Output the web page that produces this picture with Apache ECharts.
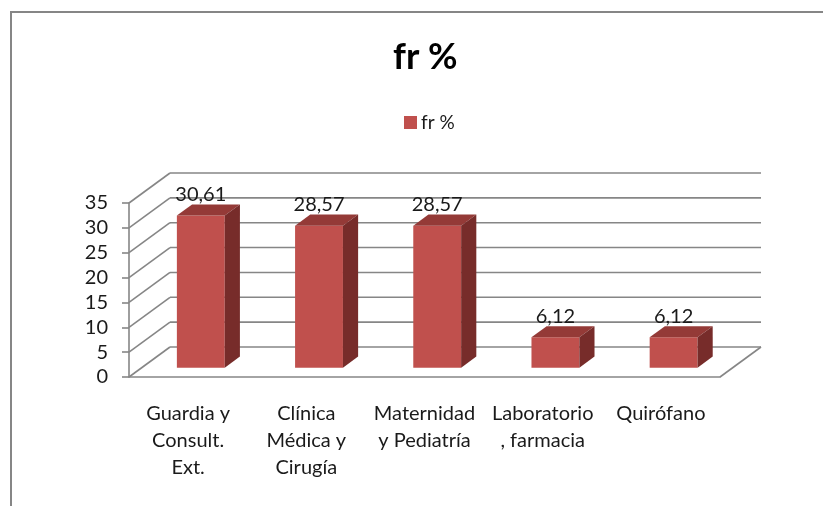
<!DOCTYPE html>
<html>
<head>
<meta charset="utf-8">
<script src="https://cdn.jsdelivr.net/npm/echarts@6/dist/echarts.min.js"></script>
<style>
  html, body { margin: 0; padding: 0; background: #fff; }
  #chart { width: 823px; height: 506px; }
</style>
</head>
<body>
<div id="chart"></div>
<script>
// data
var categories = ['Guardia y\nConsult.\nExt.', 'Clínica\nMédica y\nCirugía', 'Maternidad\ny Pediatría', 'Laboratorio\n, farmacia', 'Quirófano']
var frValues = [30.61, 28.57, 28.57, 6.12, 6.12]
var frLabels = ['30,61', '28,57', '28,57', '6,12', '6,12']
var yTicks = [0, 5, 10, 15, 20, 25, 30, 35]

// fake 3d depth (back wall offset)
var DX = 41
var DY = -30
var GRAY = '#868686'
var FONT = 'Lato'

var chart = echarts.init(document.getElementById('chart'))

function renderWalls (params, api) {
  var cs = params.coordSys
  var v = api.value(0)
  var y = api.coord([0, v])[1]
  var x0 = cs.x
  var x1 = cs.x + cs.width
  var style = { stroke: GRAY, lineWidth: 1.6 }
  var children = [
    { type: 'line', shape: { x1: x0, y1: y, x2: x0 + DX, y2: y + DY }, style: style },
    { type: 'line', shape: { x1: x0 + DX, y1: y + DY, x2: x1 + DX, y2: y + DY }, style: style }
  ]
  if (v === 0) {
    children.push({ type: 'line', shape: { x1: x1, y1: y, x2: x1 + DX, y2: y + DY }, style: style })
  }
  return { type: 'group', children: children }
}

function renderBar (params, api) {
  var idx = api.value(0)
  var val = api.value(1)
  var base = api.coord([idx, 0])
  var top = api.coord([idx, val])
  var band = api.size([1, 0])[0]
  var w = band * 0.405
  var f0 = 0.31
  var fd = 0.37
  var ox = DX * f0
  var oy = DY * f0
  var dx = DX * fd
  var dy = DY * fd
  var xl = base[0] - w / 2 + ox
  var xr = xl + w
  var yb = base[1] + oy
  var yt = top[1] + oy
  return {
    type: 'group',
    children: [
      { type: 'polygon', shape: { points: [[xl, yb], [xr, yb], [xr, yt], [xl, yt]] }, style: { fill: '#C0504D' } },
      { type: 'polygon', shape: { points: [[xl, yt], [xr, yt], [xr + dx, yt + dy], [xl + dx, yt + dy]] }, style: { fill: '#943A37' } },
      { type: 'polygon', shape: { points: [[xr, yb], [xr + dx, yb + dy], [xr + dx, yt + dy], [xr, yt]] }, style: { fill: '#772C2A' } },
      {
        type: 'text',
        style: {
          text: frLabels[params.dataIndex],
          x: (xl + xr) / 2,
          y: yt - 21,
          align: 'center',
          verticalAlign: 'middle',
          fill: '#1a1a1a',
          font: '20px ' + FONT
        }
      }
    ]
  }
}

var option = {
  animation: false,
  backgroundColor: '#fff',
  title: {
    text: 'fr %',
    left: 388,
    top: 34,
    textStyle: { fontFamily: FONT, fontSize: 36, fontWeight: 'bold', color: '#000' }
  },
  legend: {
    data: [{ name: 'fr %', icon: 'rect' }],
    left: 399,
    top: 108,
    itemWidth: 13,
    itemHeight: 13,
    itemGap: 5,
    selectedMode: false,
    textStyle: { fontFamily: FONT, fontSize: 19, color: '#1a1a1a', padding: [0, 0, 0, -1] }
  },
  grid: { left: 129, top: 203, width: 591, height: 174 },
  xAxis: {
    type: 'category',
    data: categories,
    axisLine: { lineStyle: { color: GRAY, width: 1.6 } },
    axisTick: { length: 8, lineStyle: { color: GRAY, width: 1.6 } },
    axisLabel: {
      interval: 0,
      margin: 23,
      fontFamily: FONT,
      fontSize: 20,
      lineHeight: 27,
      color: '#1a1a1a'
    },
    splitLine: { show: false }
  },
  yAxis: {
    type: 'value',
    min: 0,
    max: 35,
    interval: 5,
    axisLine: { show: true, lineStyle: { color: GRAY, width: 1.6 } },
    axisTick: { show: true, length: 7, lineStyle: { color: GRAY, width: 1.6 } },
    axisLabel: { margin: 21, fontFamily: FONT, fontSize: 20, color: '#1a1a1a' },
    splitLine: { show: false }
  },
  graphic: [
    {
      type: 'rect',
      shape: { x: 11, y: 12, width: 900, height: 600 },
      style: { fill: 'none', stroke: GRAY, lineWidth: 2 },
      silent: true,
      z: -1
    }
  ],
  series: [
    {
      name: 'walls',
      type: 'custom',
      silent: true,
      renderItem: renderWalls,
      data: yTicks.map(function (t) { return [t] }),
      encode: { y: 0 },
      z: 1
    },
    {
      name: 'fr %',
      type: 'custom',
      itemStyle: { color: '#C0504D' },
      renderItem: renderBar,
      data: frValues.map(function (v, i) { return [i, v] }),
      encode: { x: 0, y: 1 },
      z: 3
    }
  ]
}

chart.setOption(option)
</script>
</body>
</html>
